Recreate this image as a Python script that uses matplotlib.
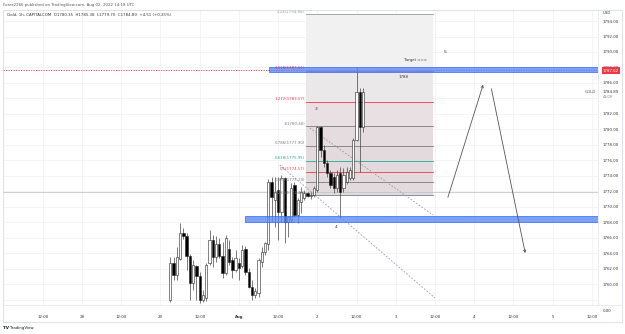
import matplotlib
matplotlib.use("Agg")
import matplotlib.pyplot as plt
from matplotlib.patches import Rectangle
import numpy as np

# x axis = hourly bars on the compressed TradingView time scale (27 Jul 00:00 = 0)
tick_pos = [12, 24, 36, 48, 60, 72, 84, 96, 108, 120, 132, 144, 156, 168, 180]
tick_lab = ["12:00", "28", "12:00", "29", "12:00", "Aug", "12:00", "2", "12:00",
            "3", "12:00", "4", "12:00", "5", "12:00"]

# Gold 1h candles
opens = [1758.00, 1762.77, 1761.23, 1763.29, 1766.65, 1766.26, 1763.68, 1760.19, 1762.39, 1761.10,
         1758.00, 1758.26, 1762.77, 1765.74, 1763.55, 1765.23, 1763.68, 1761.48, 1764.60, 1763.16,
         1761.87, 1762.77, 1762.40, 1764.58, 1761.60, 1759.70, 1758.65, 1758.90, 1762.90, 1764.19,
         1765.20, 1773.23, 1770.90, 1772.20, 1769.35, 1773.74, 1768.06, 1768.30, 1772.84, 1768.97,
         1770.60, 1771.16, 1771.81, 1771.42, 1771.55, 1772.19, 1780.32, 1777.35, 1775.68, 1774.39,
         1773.90, 1772.45, 1774.39, 1772.45, 1773.23, 1773.74, 1773.74, 1778.65, 1784.84, 1780.35]
highs = [1763.55, 1763.55, 1764.84, 1767.94, 1767.30, 1766.65, 1763.90, 1763.16, 1762.52, 1761.60,
         1759.30, 1762.80, 1767.03, 1766.39, 1766.26, 1766.00, 1765.48, 1766.39, 1765.80, 1763.55,
         1764.45, 1763.42, 1765.10, 1764.97, 1762.13, 1760.58, 1759.60, 1763.42, 1764.84, 1765.48,
         1773.61, 1773.87, 1773.87, 1773.87, 1774.10, 1773.90, 1768.90, 1773.10, 1773.23, 1771.20,
         1772.58, 1772.19, 1771.94, 1771.90, 1772.71, 1780.45, 1780.45, 1778.00, 1776.06, 1774.77,
         1774.39, 1774.77, 1775.16, 1775.03, 1775.16, 1775.20, 1778.90, 1788.06, 1785.35, 1785.38]
lows = [1757.80, 1760.58, 1760.58, 1763.16, 1765.90, 1761.87, 1758.00, 1759.29, 1758.00, 1757.60,
        1757.70, 1757.90, 1762.52, 1762.26, 1762.90, 1763.42, 1760.84, 1761.23, 1762.50, 1760.84,
        1761.60, 1760.58, 1762.10, 1761.23, 1759.55, 1758.00, 1758.20, 1758.39, 1762.26, 1763.81,
        1764.45, 1768.06, 1767.42, 1765.74, 1768.00, 1765.35, 1766.10, 1768.06, 1768.71, 1767.94,
        1769.23, 1770.90, 1771.29, 1771.00, 1771.29, 1771.94, 1776.45, 1775.16, 1773.87, 1772.45,
        1771.81, 1771.94, 1768.58, 1771.94, 1772.97, 1773.48, 1773.48, 1778.52, 1774.52, 1779.70]
closes = [1762.77, 1761.23, 1763.55, 1766.65, 1766.26, 1763.68, 1760.19, 1762.52, 1761.10, 1758.00,
          1758.60, 1762.52, 1765.74, 1763.55, 1765.23, 1763.68, 1761.48, 1766.00, 1762.90, 1761.87,
          1763.42, 1762.13, 1764.45, 1761.60, 1759.68, 1758.65, 1759.10, 1763.16, 1764.19, 1765.35,
          1773.23, 1771.29, 1771.94, 1769.35, 1773.70, 1768.06, 1768.70, 1772.45, 1768.97, 1770.90,
          1771.94, 1771.81, 1771.42, 1771.60, 1772.45, 1780.32, 1777.35, 1775.68, 1774.39, 1772.84,
          1772.45, 1774.13, 1771.94, 1774.13, 1774.52, 1774.77, 1778.65, 1784.84, 1780.38, 1784.89]
bar_hour = list(range(51, 51 + len(opens)))

# fibonacci retracement drawn on the chart
fib_ratio = ["0.236", "0.382", "0.5", "0.618", "0.786", "1", "1.272", "1.618", "2.24"]
fib_price = [1771.49, 1773.19, 1774.57, 1775.95, 1777.90, 1780.40, 1783.57, 1787.61, 1794.86]
fib_color = ["#787b86", "#787b86", "#f23645", "#22ab94", "#787b86", "#787b86",
             "#f23645", "#f23645", "#9598a1"]
fib_fill = ["#e3dadd", "#e3dadd", "#e3dadd", "#e3dadd", "#e4dcde", "#e8e0e2", "#ebe8e9", "#f1f1f1"]
fib_x = [92.5, 131.4]

yticks = [1760, 1762, 1764, 1766, 1768, 1770, 1772, 1774, 1776, 1778, 1780, 1782, 1786, 1788,
          1790, 1792, 1794]

W, H = 625, 334
FS = 2.8
fig = plt.figure(figsize=(W / 100, H / 100), dpi=100)
ax = fig.add_axes([3 / W, 1 - 305 / H, 595 / W, 295 / H])
ax.set_xlim(-0.2, 181.9)
ax.set_ylim(1757.35, 1795.42)

# grid
for y in range(1758, 1796, 2):
    ax.axhline(y, color="#eef0f5", lw=0.5, zorder=0)
for x in tick_pos:
    ax.axvline(x, color="#eef0f5", lw=0.5, zorder=0)

# fib zones and levels
for i in range(len(fib_price) - 1):
    ax.fill_between(fib_x, fib_price[i], fib_price[i + 1], color=fib_fill[i], lw=0, zorder=0.5)
for r, p, c in zip(fib_ratio, fib_price, fib_color):
    ax.plot(fib_x, [p, p], color=c, lw=0.6, zorder=1)
    ax.text(fib_x[0] - 0.3, p + 0.05, "%s(%.2f)" % (r, p), ha="right", va="bottom",
            fontsize=FS, color=c, zorder=5)

# horizontal line + red dashed level
ax.axhline(1771.95, color="#c3c6ce", lw=0.6, zorder=1)
ax.axhline(1787.62, color="#f23645", lw=0.6, ls=(0, (1.5, 1.5)), zorder=1)

# dashed trend lines
ax.plot([93.7, 131.4], [1780.19, 1768.97], color="#9598a1", lw=0.6, ls=(0, (2, 2)), zorder=1.5)
ax.plot([84.5, 132.0], [1775.42, 1758.26], color="#9598a1", lw=0.6, ls=(0, (2, 2)), zorder=1.5)

# candles
o = np.array(opens)
c = np.array(closes)
bull = c >= o
ax.vlines(bar_hour, lows, highs, color="#444444", lw=0.5, zorder=2)
bottom = np.minimum(o, c)
height = np.maximum(np.abs(c - o), 0.08)
ax.bar(bar_hour, height, bottom=bottom, width=0.7,
       color=["#ffffff" if b else "#000000" for b in bull],
       edgecolor="#222222", linewidth=0.4, zorder=3)

# blue zones
ax.add_patch(Rectangle((81.2, 1787.42), 200, 0.64, facecolor="#5b8af5", alpha=0.8,
                       edgecolor="#2962ff", lw=0.6, zorder=4))
ax.add_patch(Rectangle((73.8, 1768.0), 200, 0.84, facecolor="#5b8af5", alpha=0.8,
                       edgecolor="#2962ff", lw=0.6, zorder=4))

# projection arrows
ax.annotate("", xy=(147.0, 1786.13), xytext=(135.7, 1770.9),
            arrowprops=dict(arrowstyle="->", color="#555555", lw=0.6, mutation_scale=4), zorder=5)
ax.annotate("", xy=(159.8, 1763.7), xytext=(149.1, 1785.6),
            arrowprops=dict(arrowstyle="->", color="#555555", lw=0.6, mutation_scale=4), zorder=5)

# wave labels and notes
ax.text(95.6, 1782.6, "3", fontsize=3.2, color="#333333", ha="center", va="center", zorder=6)
ax.text(101.7, 1767.4, "4", fontsize=3.2, color="#333333", ha="center", va="center", zorder=6)
ax.text(135.0, 1790.0, "5", fontsize=3.2, color="#333333", ha="center", va="center", zorder=6)
ax.text(125.9, 1788.97, "Target ===", fontsize=FS, color="#333333", ha="center", va="center", zorder=6)
ax.text(122.5, 1786.8, "1788", fontsize=FS, color="#333333", ha="center", va="center", zorder=6)

# axes styling
for s in ["top", "left", "bottom"]:
    ax.spines[s].set_visible(False)
ax.spines["right"].set_color("#e0e3eb")
ax.spines["right"].set_linewidth(0.5)
ax.yaxis.tick_right()
ax.set_yticks(yticks)
ax.set_yticklabels(["%.2f" % v for v in yticks])
ax.tick_params(axis="y", length=0, pad=3.5, labelsize=FS, labelcolor="#333333")
ax.set_xticks(tick_pos)
ax.set_xticklabels(tick_lab)
ax.tick_params(axis="x", length=0, pad=7, labelsize=FS, labelcolor="#333333")
for lab in ax.get_xticklabels():
    if lab.get_text() == "Aug":
        lab.set_fontweight("bold")

# price scale labels
fig.text(611 / W, 1 - 70.5 / H, "1787.62", fontsize=FS, color="white", ha="center", va="center",
         bbox=dict(boxstyle="square,pad=0.3", facecolor="#f23645", edgecolor="none"))
fig.text(590 / W, 1 - 92 / H, "GOLD", fontsize=FS, color="#555555", ha="center", va="center")
fig.text(603 / W, 1 - 92 / H, "1784.89", fontsize=FS, color="#333333", ha="left", va="center")
fig.text(603 / W, 1 - 97 / H, "41:09", fontsize=2.4, color="#777777", ha="left", va="center")
fig.text(603 / W, 1 - 13 / H, "USD", fontsize=FS, color="#333333", ha="left", va="center")
fig.text(603 / W, 1 - 310.5 / H, "0.00", fontsize=FS, color="#333333", ha="left", va="center")

# header, frame and logo
fig.text(3 / W, 1 - 5 / H, "Forex2266 published on TradingView.com, Aug 02, 2022 14:18 UTC",
         fontsize=FS, color="#555555", ha="left", va="center")
fig.text(7 / W, 1 - 15 / H,
         "Gold, 1h, CAPITALCOM  O1780.35  H1785.38  L1779.70  C1784.89  +4.51 (+0.25%)",
         fontsize=FS, color="#333333", ha="left", va="center")
fig.patches.append(Rectangle((3 / W, 1 - 322 / H), 619 / W, 312 / H, transform=fig.transFigure,
                             fill=False, edgecolor="#d1d4dc", lw=0.5))
fig.lines.append(plt.Line2D([3 / W, 622 / W], [1 - 305 / H, 1 - 305 / H],
                            transform=fig.transFigure, color="#e0e3eb", lw=0.5))
fig.text(3 / W, 1 - 328 / H, "TV", fontsize=3, fontweight="bold", color="#131722",
         ha="left", va="center")
fig.text(10 / W, 1 - 328 / H, "TradingView", fontsize=FS, color="#131722", ha="left", va="center")

fig.savefig("out.png", dpi=100, facecolor="white")
